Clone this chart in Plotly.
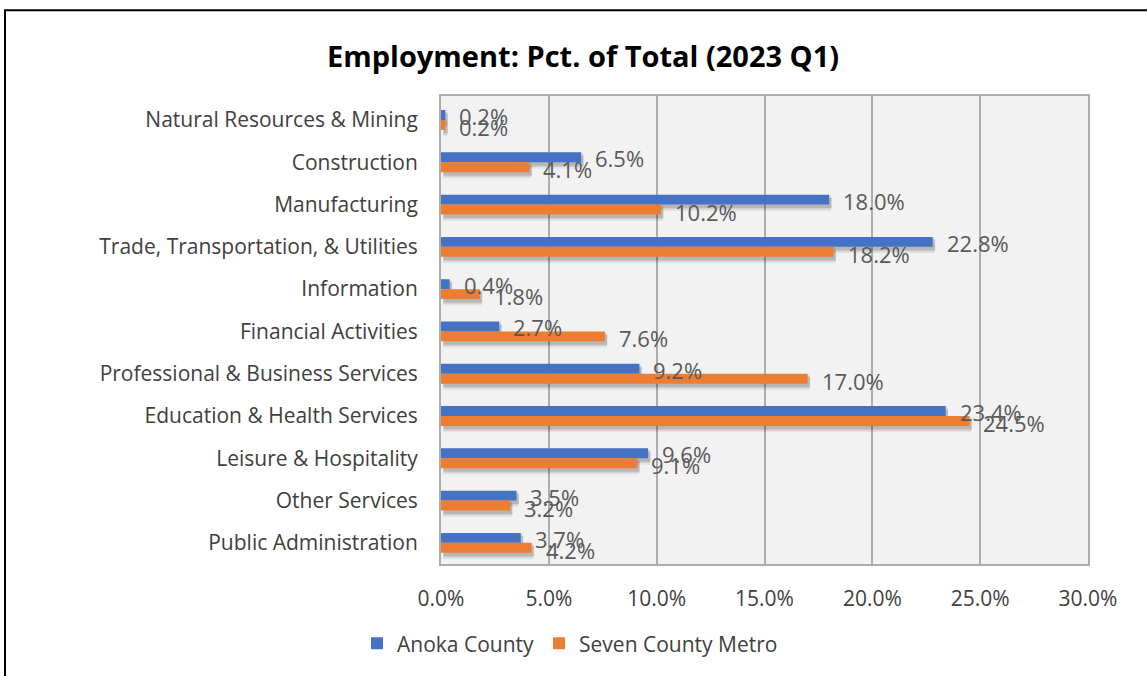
import plotly.graph_objects as go

# Employment share by industry, first quarter of 2023
industries = [
    "Natural Resources & Mining",
    "Construction",
    "Manufacturing",
    "Trade, Transportation, & Utilities",
    "Information",
    "Financial Activities",
    "Professional & Business Services",
    "Education & Health Services",
    "Leisure & Hospitality",
    "Other Services",
    "Public Administration",
]
anoka_county = [0.2, 6.5, 18.0, 22.8, 0.4, 2.7, 9.2, 23.4, 9.6, 3.5, 3.7]
seven_county_metro = [0.2, 4.1, 10.2, 18.2, 1.8, 7.6, 17.0, 24.5, 9.1, 3.2, 4.2]
x_ticks = [0, 5, 10, 15, 20, 25, 30]
x_tick_labels = ["0.0%", "5.0%", "10.0%", "15.0%", "20.0%", "25.0%", "30.0%"]

series = [
    ("Anoka County", anoka_county, "#4472C4", -0.235, -4),
    ("Seven County Metro", seven_county_metro, "#ED7D31", 0.0, 7),
]

FONT = "Open Sans"
BAR_W = 0.235

# figure and plot-area geometry in pixels
L, R, T, B = 441, 59, 96, 110
W, H = 1147, 676
pw, ph = W - L - R, H - T - B


def px_x(px):
    return (px - L) / pw


def px_y(py):
    return (H - B - py) / ph


fig = go.Figure()

# soft drop shadows behind each bar
for name, vals, color, off, _ in series:
    for spread, alpha in [(0.07, 0.06), (0.03, 0.09), (0.0, 0.11)]:
        fig.add_trace(go.Bar(
            y=industries, x=vals, orientation="h",
            base=0.12 - spread * 0.5,
            width=BAR_W + 2 * spread,
            offset=off + 0.08 - spread,
            marker=dict(color=f"rgba(0,0,0,{alpha})", line=dict(width=0)),
            hoverinfo="skip", showlegend=False,
        ))

for name, vals, color, off, _ in series:
    fig.add_trace(go.Bar(
        y=industries, x=vals, orientation="h", name=name,
        width=BAR_W, offset=off,
        marker=dict(color=color, line=dict(width=0)),
    ))

# value labels beside each bar end
annotations = []
for name, vals, color, off, yshift in series:
    for cat, v in zip(industries, vals):
        annotations.append(dict(
            x=v, y=cat, xref="x", yref="y",
            text=f"{v:.1f}%", showarrow=False,
            xanchor="left", yanchor="middle",
            xshift=12, yshift=-yshift,
            font=dict(family=FONT, size=22, color="#595959"),
        ))

annotations.append(dict(
    x=px_x(583), y=px_y(55), xref="paper", yref="paper",
    xanchor="center", yanchor="middle",
    text="<b>Employment: Pct. of Total (2023 Q1)</b>",
    showarrow=False, font=dict(family=FONT, size=29, color="#000000"),
))

fig.update_layout(
    width=W, height=H,
    margin=dict(l=L, r=R, t=T, b=B),
    barmode="overlay",
    paper_bgcolor="#FFFFFF",
    plot_bgcolor="#F2F2F2",
    font=dict(family=FONT, size=20, color="#404040"),
    xaxis=dict(
        range=[0, 30], tickvals=x_ticks, ticktext=x_tick_labels,
        showgrid=True, gridcolor="#ADADAD", gridwidth=2,
        zeroline=False, showline=True, linecolor="#ADADAD", linewidth=2, mirror=True,
        ticks="", ticklabelstandoff=15,
        tickfont=dict(family=FONT, size=21, color="#404040"),
    ),
    yaxis=dict(
        autorange="reversed", showgrid=False, zeroline=False,
        showline=True, linecolor="#ADADAD", linewidth=2, mirror=True,
        ticks="", ticklabelstandoff=17,
        tickfont=dict(family=FONT, size=21, color="#404040"),
    ),
    legend=dict(
        orientation="h", x=px_x(357), xanchor="left",
        y=px_y(646), yanchor="middle",
        font=dict(family=FONT, size=21, color="#404040"),
        traceorder="normal", itemwidth=30,
    ),
    annotations=annotations,
    shapes=[dict(
        type="rect", xref="paper", yref="paper",
        x0=px_x(5), x1=px_x(1200),
        y0=px_y(720), y1=px_y(10),
        line=dict(color="#000000", width=2), fillcolor="rgba(0,0,0,0)", layer="below",
    )],
)

fig.write_html("out.html")
